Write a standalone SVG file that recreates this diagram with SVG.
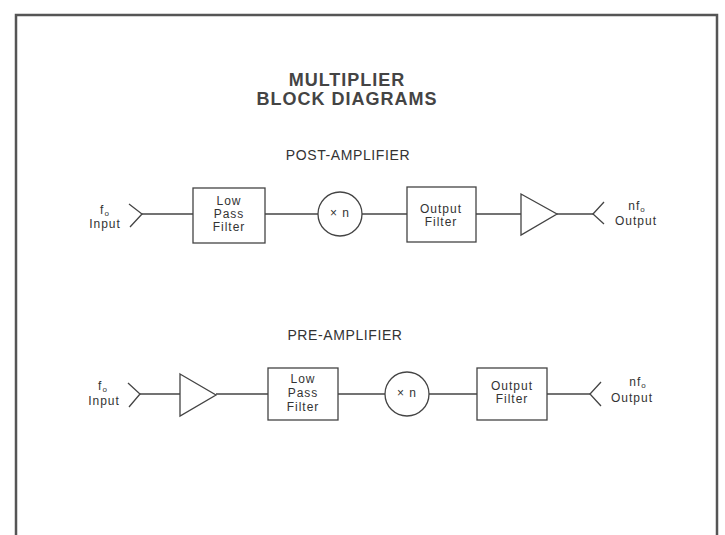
<svg xmlns="http://www.w3.org/2000/svg" width="725" height="535" viewBox="0 0 725 535">
<style>
.frame{fill:none;stroke:#555;stroke-width:2.5}
.ln{fill:none;stroke:#444;stroke-width:1.3}
.bx{fill:#fff;stroke:#444;stroke-width:1.3}
.t{font-family:"Liberation Sans",Arial,sans-serif;fill:#333;text-anchor:middle}
.title{font-size:18px;font-weight:bold;letter-spacing:1px;fill:#444}
.sub{font-size:14px;letter-spacing:0.6px}
.lbl{font-size:12px;letter-spacing:1px}
.s{font-size:8px}
</style>
<rect width="725" height="535" fill="#fff"/>
<path class="frame" d="M16,540 V15 H717 V540"/>
<g id="titles">
<text class="t title" x="347" y="86">MULTIPLIER</text>
<text class="t title" x="347" y="105">BLOCK DIAGRAMS</text>
<text class="t sub" x="348" y="160">POST-AMPLIFIER</text>
<text class="t sub" x="345" y="340">PRE-AMPLIFIER</text>
</g>
<g id="connectors">
<path class="ln" d="M142,214 H193"/>
<path class="ln" d="M265,214 H318"/>
<path class="ln" d="M362,214 H407"/>
<path class="ln" d="M476,214 H521"/>
<path class="ln" d="M557,214 H593"/>
<path class="ln" d="M140,394 H180"/>
<path class="ln" d="M216,394 H268"/>
<path class="ln" d="M338,394 H385"/>
<path class="ln" d="M429,394 H477"/>
<path class="ln" d="M547,394 H590"/>
</g>
<g id="post-input">
<path class="ln" d="M129,204 L142,214 L130,227"/>
<text class="t lbl" x="105" y="214">f<tspan class="s" dy="2">o</tspan></text>
<text class="t lbl" x="105" y="228">Input</text>
</g>
<g id="post-lpf">
<rect class="bx" x="193" y="188" width="72" height="55"/>
<text class="t lbl" x="229" y="205">Low</text>
<text class="t lbl" x="229" y="218">Pass</text>
<text class="t lbl" x="229" y="231">Filter</text>
</g>
<g id="post-mult">
<circle class="bx" cx="340" cy="214" r="22"/>
<text class="t lbl" x="340" y="217">× n</text>
</g>
<g id="post-ofilter">
<rect class="bx" x="407" y="187" width="69" height="55"/>
<text class="t lbl" x="441" y="213">Output</text>
<text class="t lbl" x="441" y="226">Filter</text>
</g>
<g id="post-amp">
<path class="bx" d="M521,194 L557,214 L521,235 Z"/>
</g>
<g id="post-output">
<path class="ln" d="M604,202 L593,214 L604,224"/>
<text class="t lbl" x="637" y="210">nf<tspan class="s" dy="2">o</tspan></text>
<text class="t lbl" x="636" y="225">Output</text>
</g>
<g id="pre-input">
<path class="ln" d="M128,383 L140,394 L129,407"/>
<text class="t lbl" x="103" y="390">f<tspan class="s" dy="2">o</tspan></text>
<text class="t lbl" x="104" y="405">Input</text>
</g>
<g id="pre-amp">
<path class="bx" d="M180,374 L216,395 L180,416 Z"/>
</g>
<g id="pre-lpf">
<rect class="bx" x="268" y="368" width="70" height="52"/>
<text class="t lbl" x="303" y="383">Low</text>
<text class="t lbl" x="303" y="397">Pass</text>
<text class="t lbl" x="303" y="411">Filter</text>
</g>
<g id="pre-mult">
<circle class="bx" cx="407" cy="394" r="22"/>
<text class="t lbl" x="407" y="397">× n</text>
</g>
<g id="pre-ofilter">
<rect class="bx" x="477" y="368" width="70" height="52"/>
<text class="t lbl" x="512" y="390">Output</text>
<text class="t lbl" x="512" y="403">Filter</text>
</g>
<g id="pre-output">
<path class="ln" d="M601,382 L590,394 L601,406"/>
<text class="t lbl" x="638" y="386">nf<tspan class="s" dy="2">o</tspan></text>
<text class="t lbl" x="632" y="402">Output</text>
</g>
</svg>
